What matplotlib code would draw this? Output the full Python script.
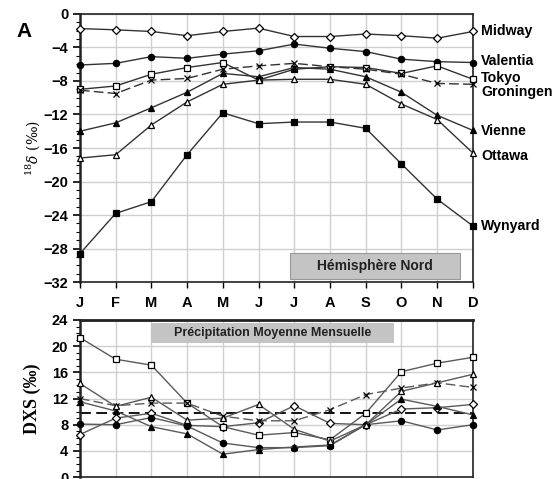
import matplotlib
matplotlib.use("Agg")
import matplotlib.pyplot as plt
from matplotlib.ticker import MultipleLocator
from matplotlib.patches import Rectangle

months = ["J", "F", "M", "A", "M", "J", "J", "A", "S", "O", "N", "D"]
stations = ["Midway", "Valentia", "Tokyo", "Groningen", "Vienne", "Ottawa", "Wynyard"]

# delta 18O (permil), monthly
d18_midway = [-1.75, -1.9, -2.1, -2.6, -2.1, -1.7, -2.7, -2.7, -2.4, -2.6, -2.9, -2.1]
d18_valentia = [-6.1, -5.9, -5.1, -5.3, -4.8, -4.4, -3.6, -4.1, -4.5, -5.4, -5.7, -5.8]
d18_tokyo = [-9.0, -8.6, -7.2, -6.4, -5.8, -7.9, -6.6, -6.3, -6.4, -7.1, -6.2, -7.8]
d18_groningen = [-9.1, -9.5, -7.9, -7.7, -6.6, -6.2, -5.9, -6.3, -6.6, -7.2, -8.3, -8.4]
d18_vienne = [-14.0, -13.0, -11.2, -9.35, -7.1, -7.5, -6.4, -6.6, -7.5, -9.35, -12.1, -13.9]
d18_ottawa = [-17.2, -16.8, -13.25, -10.5, -8.4, -7.9, -7.8, -7.8, -8.4, -10.75, -12.6, -16.6]
d18_wynyard = [-28.6, -23.8, -22.4, -16.8, -11.8, -13.1, -12.9, -12.9, -13.65, -17.9, -22.1, -25.3]

# deuterium excess (permil), monthly
dxs_midway = [6.5, 9.0, 9.75, 7.9, 7.7, 8.3, 10.9, 8.2, 8.0, 10.4, 10.6, 11.1]
dxs_valentia = [8.1, 8.0, 9.1, 7.8, 5.2, 4.5, 4.5, 4.8, 8.0, 8.6, 7.2, 8.0]
dxs_tokyo = [21.3, 18.0, 17.1, 11.3, 7.7, 6.4, 6.8, 5.7, 9.75, 16.1, 17.4, 18.3]
dxs_groningen = [12.0, 10.9, 11.3, 11.3, 9.3, 8.6, 8.6, 10.3, 12.6, 13.6, 14.4, 13.7]
dxs_vienne = [11.5, 10.1, 7.7, 6.6, 3.5, 4.2, 4.6, 4.9, 8.0, 11.9, 10.8, 9.5]
dxs_ottawa = [14.3, 10.8, 12.2, 8.7, 9.0, 11.1, 7.3, 5.5, 8.0, 13.1, 14.4, 15.7]
dxs_mean = 9.8

d18_series = [d18_midway, d18_valentia, d18_tokyo, d18_groningen, d18_vienne, d18_ottawa, d18_wynyard]
dxs_series = [dxs_midway, dxs_valentia, dxs_tokyo, dxs_groningen, dxs_vienne, dxs_ottawa]

styles = {
    "Midway": dict(marker="D", mfc="white", ms=4.0, ls="-"),
    "Valentia": dict(marker="o", mfc="black", ms=4.5, ls="-"),
    "Tokyo": dict(marker="s", mfc="white", ms=5.0, ls="-"),
    "Groningen": dict(marker="x", mfc="black", ms=5.0, ls=(0, (7, 3))),
    "Vienne": dict(marker="^", mfc="black", ms=5.0, ls="-"),
    "Ottawa": dict(marker="^", mfc="white", ms=5.0, ls="-"),
    "Wynyard": dict(marker="s", mfc="black", ms=4.5, ls="-"),
}

label_y = {"Midway": -2.0, "Valentia": -5.6, "Tokyo": -7.6, "Groningen": -9.3,
           "Vienne": -14.0, "Ottawa": -17.0, "Wynyard": -25.3}

plt.rcParams["font.family"] = ["Liberation Sans", "DejaVu Sans"]
plt.rcParams["mathtext.fontset"] = "dejavuserif"
fig = plt.figure(figsize=(5.59, 4.79), dpi=100)

x = list(range(12))
grid_c = "#cfcfcf"

def style_axes(ax):
    ax.set_xlim(0, 11)
    ax.set_xticks(x)
    ax.grid(True, which="major", color=grid_c, lw=1.0)
    ax.set_axisbelow(True)
    for s in ax.spines.values():
        s.set_linewidth(1.2)
        s.set_color("#222222")
    ax.spines["left"].set_linewidth(1.8)
    ax.yaxis.set_minor_locator(MultipleLocator(1))
    ax.tick_params(axis="y", which="major", length=5, width=1.2, labelsize=10.5)
    ax.tick_params(axis="y", which="minor", length=3, width=0.8)
    for lab in ax.get_yticklabels():
        lab.set_fontweight("bold")

# ---- top panel
ax1 = fig.add_axes([0.143, 0.411, 0.703, 0.560])
for name, vals in zip(stations, d18_series):
    st = styles[name]
    ax1.plot(x, vals, color="#333333", lw=1.0, ls=st["ls"], marker=st["marker"],
             mfc=st["mfc"], mec="black", ms=st["ms"], mew=0.9, clip_on=False, zorder=3)
ax1.set_ylim(-32, 0)
ax1.set_yticks(range(-32, 1, 4))
style_axes(ax1)
ax1.set_xticklabels(months, fontweight="bold", fontsize=10.5)
ax1.tick_params(axis="x", length=4, width=1.0, pad=6)
ax1.set_ylabel(r"$^{18}\delta$ (‰)", family=["DejaVu Serif"], fontsize=10, labelpad=1)
for name in stations:
    ax1.annotate(name, xy=(11, label_y[name]), xytext=(6, 0), textcoords="offset points",
                 va="center", ha="left", fontweight="bold", fontsize=10.2,
                 annotation_clip=False)
ax1.add_patch(Rectangle((5.87, -31.6), 4.76, 3.1, facecolor="#c4c4c4",
                        edgecolor="#999999", lw=0.8, zorder=4))
ax1.text(8.25, -30.05, "Hémisphère Nord", ha="center", va="center",
         fontweight="bold", fontsize=10, color="#222222", zorder=5)

# ---- bottom panel
ax2 = fig.add_axes([0.143, 0.004, 0.703, 0.328])
for name, vals in zip(stations[:-1], dxs_series):
    st = styles[name]
    ax2.plot(x, vals, color="#5a5a5a", lw=1.0, ls=st["ls"], marker=st["marker"],
             mfc=st["mfc"], mec="black", ms=st["ms"], mew=0.9, clip_on=False, zorder=3)
ax2.axhline(dxs_mean, color="black", lw=1.3, ls=(0, (6, 3)), zorder=2)
ax2.set_ylim(0, 24)
ax2.set_yticks(range(0, 25, 4))
style_axes(ax2)
ax2.spines["top"].set_linewidth(2.0)
ax2.set_xticklabels([])
ax2.tick_params(axis="x", length=0)
ax2.set_ylabel("DXS (‰)", family=["Liberation Serif"], fontweight="bold",
               fontsize=13, labelpad=8)
ax2.add_patch(Rectangle((2.0, 20.5), 6.8, 3.1, facecolor="#c4c4c4",
                        edgecolor="none", zorder=4))
ax2.text(5.4, 22.05, "Précipitation Moyenne Mensuelle", ha="center", va="center",
         fontweight="bold", fontsize=9, color="#222222", zorder=5)

fig.text(0.043, 0.935, "A", fontweight="bold", fontsize=15, ha="center", va="center")

fig.savefig("out.png", dpi=100)
